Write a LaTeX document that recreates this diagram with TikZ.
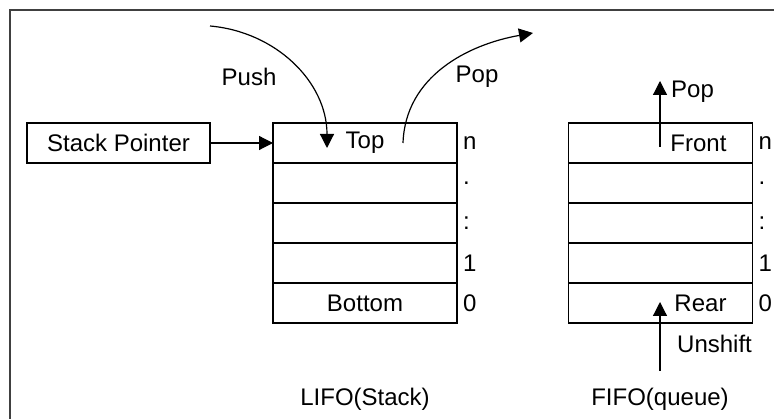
\documentclass[tikz,border=0pt]{standalone}
\usepackage{fontspec}
\setmainfont{Liberation Sans}
\usetikzlibrary{positioning,arrows.meta}

\tikzset{
  cell/.style={draw, line width=1.2pt, minimum width=184pt, minimum height=40pt, inner sep=0pt, outer sep=0pt},
  qcell/.style={cell, text width=132pt, align=right, inner xsep=26pt},
  idx/.style={inner xsep=6pt, inner ysep=0pt, outer sep=0pt},
  tip/.style={-{Triangle[length=14pt,width=14pt]}, line width=1.2pt},
  lbl/.style={inner sep=0pt},
}

\begin{document}
\begin{tikzpicture}[x=1pt, y=1pt, font=\fontsize{24}{29}\selectfont]
    \useasboundingbox (0,0) rectangle (774,-419);
    \begin{scope}
        \clip (0,0) rectangle (774,-419);
        \draw[line width=1.2pt, black!75] (10,-10) rectangle (800,-450);
    \end{scope}

    % stack
    \node[cell] (s0) at (365,-143) {Top};
    \node[cell, below=0pt of s0] (s1) {};
    \node[cell, below=0pt of s1] (s2) {};
    \node[cell, below=0pt of s2] (s3) {};
    \node[cell, below=0pt of s3] (s4) {Bottom};
    \node[idx, right=0pt of s0] (sn) {n};
    \node[idx, right=0pt of s1] (sd) {.};
    \node[idx, right=0pt of s2] (sc) {:};
    \node[idx, right=0pt of s3] (s1l) {1};
    \node[idx, right=0pt of s4] (s0l) {0};

    \node[cell, minimum width=183pt] (sp) at (118.5,-143) {Stack Pointer};
    \draw[tip] (sp) -- (s0);

    \coordinate (pushstart) at (210,-26);
    \coordinate (pushend) at (327,-148);
    \draw[tip] (pushstart) to[out=-5, in=90] (pushend);
    \node[lbl, anchor=base] (pushl) at (249,-86) {Push};

    \coordinate (popstart) at (403,-143);
    \coordinate (popend) at (533,-33);
    \draw[tip] (popstart) to[out=88, in=190] (popend);
    \node[lbl, anchor=base] (popl) at (477,-83) {Pop};

    \node[lbl, anchor=base] (lifo) at (365,-406) {LIFO(Stack)};

    % queue
    \node[qcell] (q0) at (660.5,-143) {Front};
    \node[qcell, below=0pt of q0] (q1) {};
    \node[qcell, below=0pt of q1] (q2) {};
    \node[qcell, below=0pt of q2] (q3) {};
    \node[qcell, below=0pt of q3] (q4) {Rear};
    \node[idx, right=0pt of q0] (qn) {n};
    \node[idx, right=0pt of q1] (qd) {.};
    \node[idx, right=0pt of q2] (qc) {:};
    \node[idx, right=0pt of q3] (q1l) {1};
    \node[idx, right=0pt of q4] (q0l) {0};

    \coordinate (qpopstart) at (660,-147);
    \coordinate (qpopend) at (660,-81);
    \draw[tip] (qpopstart) -- (qpopend);
    \node[lbl, anchor=base west] (qpopl) at (671,-98) {Pop};

    \coordinate (unshstart) at (660,-371);
    \coordinate (unshend) at (660,-302);
    \draw[tip] (unshstart) -- (unshend);
    \node[lbl, anchor=base west] (unshl) at (677,-353) {Unshift};

    \node[lbl, anchor=base] (fifo) at (660,-406) {FIFO(queue)};
\end{tikzpicture}
\end{document}
